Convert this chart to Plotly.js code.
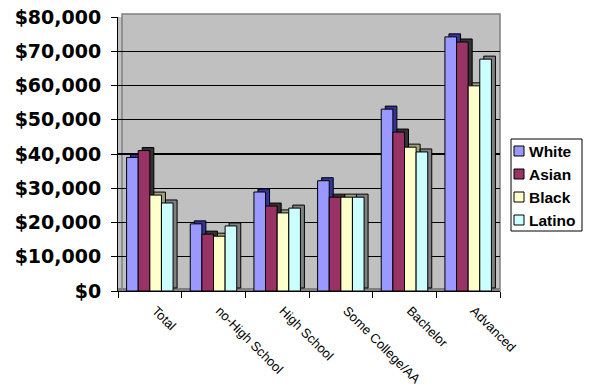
<!DOCTYPE html>
<html><head><meta charset="utf-8">
<script src="https://cdn.plot.ly/plotly-3.0.1.min.js"></script>
<style>body{margin:0;background:#fff}#c{width:591px;height:392px}</style>
</head><body><div id="c"></div>
<script>
const categories = ["Total","no-High School","High School","Some College/AA","Bachelor","Advanced"];
const white  = [39000, 19600, 28900, 32200, 53100, 74200];
const asian  = [41000, 16600, 24800, 27400, 46400, 72700];
const black  = [28000, 16000, 22800, 27400, 42000, 59900];
const latino = [25700, 19000, 24200, 27400, 40600, 67700];
const seriesNames = ["White","Asian","Black","Latino"];
const colors = ["#9999FF","#993366","#FFFFCC","#CCFFFF"];
const sideColors = ["#333399","#333333","#A0A080","#808080"];
const vals = [white, asian, black, latino];

const W = 591, H = 392, L = 118, R = 91, T = 17, B = 101;
const pw = W - L - R, ph = H - T - B;
const px = p => (p - L) / pw;          // pixel -> paper x
const py = p => (H - B - p) / ph;      // pixel -> paper y

const bw = 0.1825, start = -0.365, dx = 0.063, depth = 880;
const shadows = vals.map((v,i)=>({
  type:'bar', x:categories, y:v, base:depth, offset:start + i*bw + dx, width:bw,
  marker:{color:sideColors[i], line:{color:'#000', width:1}}, showlegend:false, hoverinfo:'skip'
}));
const fronts = vals.map((v,i)=>({
  type:'bar', x:categories, y:v, offset:start + i*bw, width:bw, name:seriesNames[i],
  marker:{color:colors[i], line:{color:'#000', width:1}}, showlegend:false
}));

const shapes = [
  {type:'rect', xref:'paper', yref:'paper', x0:px(122), x1:px(500), y0:py(291), y1:py(14),
   fillcolor:'#C0C0C0', line:{color:'#808080', width:1.5}, layer:'below'},
  {type:'rect', xref:'paper', yref:'paper', x0:0, x1:px(500), y0:0, y1:py(288),
   fillcolor:'#808080', line:{width:0}, layer:'below'}
];
const annotations = [];
const lgX = 511, lgY = 139, lgW = 71, lgH = 92, rowY = [151, 174, 197, 220];
shapes.push({type:'rect', xref:'paper', yref:'paper', x0:px(lgX), x1:px(lgX+lgW), y0:py(lgY+lgH), y1:py(lgY),
  fillcolor:'#fff', line:{color:'#000', width:1}});
seriesNames.forEach((n,i)=>{
  shapes.push({type:'rect', xref:'paper', yref:'paper', x0:px(514), x1:px(524), y0:py(rowY[i]+5), y1:py(rowY[i]-5),
    fillcolor:colors[i], line:{color:'#000', width:1}});
  annotations.push({xref:'paper', yref:'paper', x:px(527), y:py(rowY[i]), xanchor:'left', yanchor:'middle',
    text:n, showarrow:false, font:{size:15.5, weight:'bold', color:'#000'}});
});

const layout = {
  width:W, height:H,
  margin:{l:L, r:R, t:T, b:B},
  paper_bgcolor:'#fff', plot_bgcolor:'#C0C0C0',
  barmode:'overlay',
  font:{family:'Liberation Sans, Arial, sans-serif', color:'#000'},
  xaxis:{tickangle:45, tickfont:{size:13}, ticks:'outside', ticklen:6, tickcolor:'#000',
         tickson:'boundaries', showline:true, linecolor:'#000', linewidth:1,
         ticklabelshift:6, ticklabelstandoff:6, range:[-0.5,5.5]},
  yaxis:{range:[0,80000], dtick:10000, tickprefix:'$', tickformat:',d',
         tickfont:{size:19, weight:'bold', family:'DejaVu Sans, sans-serif'}, ticklabelstandoff:6,
         showgrid:true, gridcolor:'#000', gridwidth:1.2, ticks:'outside', ticklen:6, tickcolor:'#000',
         showline:true, linecolor:'#000', linewidth:1, zeroline:false},
  showlegend:false, shapes, annotations
};
Plotly.newPlot('c', shadows.concat(fronts), layout, {displayModeBar:false, staticPlot:true});
</script></body></html>
